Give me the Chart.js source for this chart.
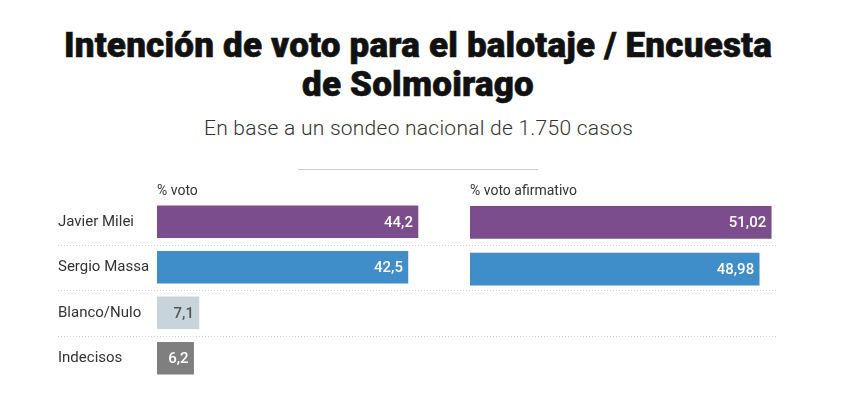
<!DOCTYPE html>
<html>
<head>
<meta charset="utf-8">
<script src="https://cdn.jsdelivr.net/npm/chart.js@4.4.0/dist/chart.umd.min.js"></script>
<style>
    body { margin: 0; background: #fff; width: 856px; height: 394px; position: relative; overflow: hidden; font-family: Roboto, sans-serif; }
    #title { position: absolute; top: 26px; left: 0; width: 836px; text-align: center; font-weight: 900; font-size: 35px; line-height: 39px; color: #111; }
    #title span { display: inline-block; transform: scaleX(1.0); transform-origin: center; white-space: nowrap; letter-spacing: 0.2px; -webkit-text-stroke: 0.6px #111; }
    #subtitle { position: absolute; top: 116px; left: 0; width: 837px; text-align: center; font-weight: 300; font-size: 21px; letter-spacing: 0.25px; color: #333; }
    #rule { position: absolute; top: 169px; left: 298px; width: 240px; height: 1px; background: #ccc; }
    #leftWrap { position: absolute; left: 58px; top: 170px; width: 732px; height: 220px; }
    #rightWrap { position: absolute; left: 470px; top: 170px; width: 320px; height: 220px; }
</style>
</head>
<body>
<div id="title"><span>Intención de voto para el balotaje / Encuesta</span><br><span>de Solmoirago</span></div>
<div id="subtitle">En base a un sondeo nacional de 1.750 casos</div>
<div id="rule"></div>
<div id="leftWrap"><canvas id="leftChart"></canvas></div>
<div id="rightWrap"><canvas id="rightChart"></canvas></div>
<script>
const candidates = ['Javier Milei', 'Sergio Massa', 'Blanco/Nulo', 'Indecisos'];
const votePct = [44.2, 42.5, 7.1, 6.2];
const runoffPct = [51.02, 48.98, null, null];
const columnTitles = ['% voto', '% voto afirmativo'];

const barColors = ['#7b4d8c', '#3f8dc9', '#c8d4dc', '#7f7f7f'];
const valueColors = ['#fff', '#fff', '#555', '#fff'];
const scaleMax = 52;

function fmt(v) {
    return String(v).replace('.', ',');
}

// header above the bars + value inside the end of each bar
const barText = {
    id: 'barText',
    afterDatasetsDraw(chart) {
        const ctx = chart.ctx;
        const area = chart.chartArea;
        ctx.save();
        ctx.font = '14px Roboto';
        ctx.fillStyle = '#333';
        ctx.textAlign = 'left';
        ctx.textBaseline = 'alphabetic';
        ctx.fillText(chart.data.datasets[0].label, area.left, area.top - 4);

        ctx.font = '500 15px Roboto';
        ctx.textAlign = 'right';
        ctx.textBaseline = 'middle';
        const meta = chart.getDatasetMeta(0);
        meta.data.forEach((bar, i) => {
            const v = chart.data.datasets[0].data[i];
            if (v == null) return;
            ctx.fillStyle = valueColors[i];
            ctx.fillText(fmt(v), bar.x - 5, bar.y + 1);
        });
        ctx.restore();
    }
};

// dotted separators between rows, across both panels
const rowLines = {
    id: 'rowLines',
    beforeDatasetsDraw(chart) {
        const ctx = chart.ctx;
        const y = chart.scales.y;
        ctx.save();
        ctx.strokeStyle = '#cfcfcf';
        ctx.lineWidth = 1;
        ctx.setLineDash([1, 2]);
        for (let i = 0; i < candidates.length - 1; i++) {
            const py = Math.round((y.getPixelForValue(i) + y.getPixelForValue(i + 1)) / 2) + 0.5;
            ctx.beginPath();
            ctx.moveTo(0, py);
            ctx.lineTo(719, py);
            ctx.stroke();
        }
        ctx.restore();
    }
};

function makeChart(id, title, values, showLabels, padRight) {
    return new Chart(document.getElementById(id), {
        type: 'bar',
        data: {
            labels: candidates,
            datasets: [{
                label: title,
                data: values,
                backgroundColor: barColors,
                barThickness: 32,
                borderWidth: 0
            }]
        },
        options: {
            indexAxis: 'y',
            responsive: true,
            maintainAspectRatio: false,
            animation: false,
            layout: { padding: { top: 29, bottom: 4, left: 0, right: padRight } },
            plugins: {
                legend: { display: false },
                tooltip: { enabled: false }
            },
            scales: {
                x: { display: false, min: 0, max: scaleMax },
                y: {
                    display: showLabels,
                    grid: { display: false },
                    border: { display: false },
                    ticks: {
                        crossAlign: 'far',
                        padding: 0,
                        color: '#333',
                        font: { family: 'Roboto', size: 15 }
                    },
                    afterFit(scale) { scale.width = showLabels ? 99 : 0; }
                }
            }
        },
        plugins: showLabels ? [rowLines, barText] : [barText]
    });
}

makeChart('leftChart', columnTitles[0], votePct, true, 326);
makeChart('rightChart', columnTitles[1], runoffPct, false, 13);
</script>
</body>
</html>
